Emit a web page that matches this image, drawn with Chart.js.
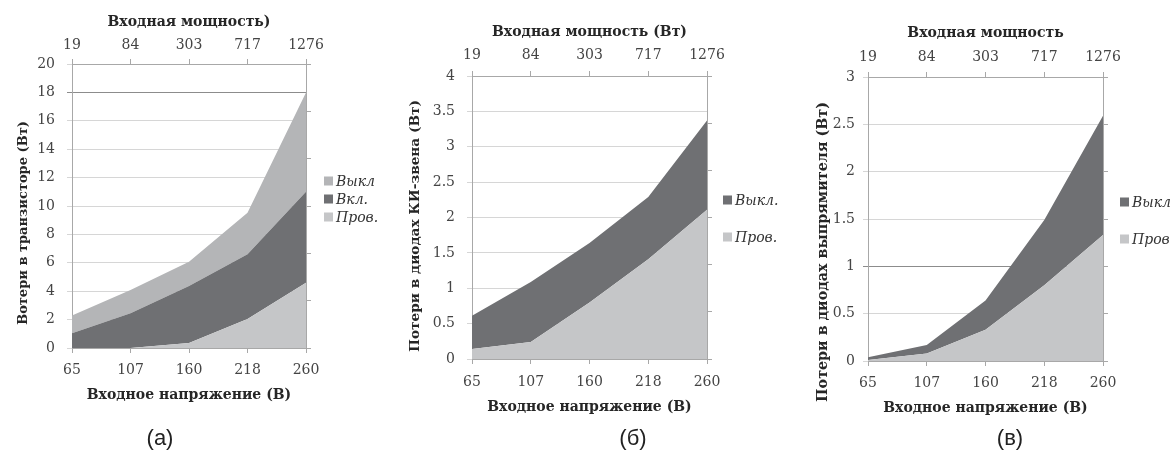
<!DOCTYPE html>
<html>
<head>
<meta charset="utf-8">
<script src="https://cdn.jsdelivr.net/npm/chart.js@4.4.0/dist/chart.umd.min.js"></script>
<style>
  body { margin: 0; background: #fff; width: 1171px; height: 452px; position: relative; overflow: hidden; }
  .panel { position: absolute; top: 0; height: 452px; }
  .cap { position: absolute; top: 438px; font: 22px "Liberation Sans", Arial, sans-serif; color: #222; transform: translate(-50%, -50%); }
</style>
</head>
<body>
<div class="panel" style="left:0;width:390px"><canvas id="chartA"></canvas></div>
<div class="panel" style="left:390px;width:390px"><canvas id="chartB"></canvas></div>
<div class="panel" style="left:780px;width:391px"><canvas id="chartV"></canvas></div>
<div class="cap" style="left:160px">(а)</div>
<div class="cap" style="left:633px">(б)</div>
<div class="cap" style="left:1010px">(в)</div>

<script>
// входное напряжение (нижняя ось) и входная мощность (верхняя ось)
const voltage = ['65', '107', '160', '218', '260'];
const power = ['19', '84', '303', '717', '1276'];

// (а) потери в транзисторе, Вт (слои стопки снизу вверх)
const provA = [0, 0, 0.35, 2.05, 4.6];
const vklA = [1.03, 2.44, 4.02, 4.55, 6.4];
const vyklA = [1.25, 1.64, 1.71, 2.93, 7.0];

// (б) потери в диодах КИ-звена, Вт
const provB = [0.14, 0.24, 0.80, 1.41, 2.11];
const vyklB = [0.47, 0.85, 0.84, 0.88, 1.26];

// (в) потери в диодах выпрямителя, Вт
const provV = [0.01, 0.08, 0.33, 0.80, 1.33];
const vyklV = [0.03, 0.09, 0.31, 0.69, 1.26];

const SERIF = '"DejaVu Serif", "Liberation Serif", serif';
const LIGHT = '#c5c6c8';
const MID = '#b4b5b7';
const DARK = '#6f7073';
const GRID = '#d6d6d6';
const AXIS = '#a8a8a8';
const TICK = '#444';
const TITLE = '#262626';

// подписи оси Y и легенда справа
const panelText = {
    id: 'panelText',
    afterDraw(chart, args, o) {
        const ctx = chart.ctx;
        ctx.save();
        ctx.font = 'bold ' + o.titleSize + 'px ' + SERIF;
        ctx.fillStyle = TITLE;
        ctx.textAlign = 'center';
        ctx.textBaseline = 'middle';
        ctx.translate(o.titleX, o.titleY);
        ctx.rotate(-Math.PI / 2);
        ctx.fillText(o.title, 0, 0);
        ctx.restore();

        const sets = chart.data.datasets.slice().reverse();
        ctx.save();
        ctx.font = 'italic 14px ' + SERIF;
        ctx.textBaseline = 'middle';
        sets.forEach((ds, i) => {
            const y = o.legendY + i * o.legendGap;
            ctx.fillStyle = ds.backgroundColor;
            ctx.fillRect(o.legendX, y - 4.5, 9, 9);
            ctx.fillStyle = '#333';
            ctx.fillText(ds.label, o.legendX + 12, y + 1);
        });
        ctx.restore();
    }
};

function area(label, data, color, first) {
    return {
        label: label,
        data: data,
        backgroundColor: color,
        borderColor: 'rgba(0,0,0,0)',
        borderWidth: 0,
        pointRadius: 0,
        tension: 0,
        fill: first ? 'origin' : '-1'
    };
}

function makeChart(id, datasets, p) {
    const tickFont = { family: SERIF, size: 14 };
    const titleFont = { family: SERIF, size: 14, weight: 'bold' };
    return new Chart(document.getElementById(id), {
        type: 'line',
        data: { labels: voltage, datasets: datasets },
        plugins: [panelText],
        options: {
            responsive: true,
            maintainAspectRatio: false,
            animation: false,
            locale: 'en-US',
            layout: { padding: { left: 0, top: 0, right: p.padRight, bottom: p.padBottom } },
            plugins: {
                legend: { display: false },
                tooltip: { enabled: false },
                panelText: p.text
            },
            scales: {
                x: {
                    position: 'bottom',
                    offset: false,
                    grid: { drawOnChartArea: false, tickLength: 5, color: AXIS },
                    border: { color: AXIS },
                    ticks: { padding: p.xPad, color: TICK, font: tickFont, maxRotation: 0, autoSkip: false },
                    title: { display: true, text: 'Входное напряжение (В)', color: TITLE, font: titleFont,
                             padding: { top: 0, bottom: p.xTitlePad } },
                    afterFit: s => { s.height = p.xHeight; }
                },
                x2: {
                    type: 'category',
                    position: 'top',
                    labels: power,
                    offset: false,
                    grid: { drawOnChartArea: false, tickLength: 5, color: AXIS },
                    border: { color: AXIS },
                    ticks: { padding: p.x2Pad, color: TICK, font: tickFont, maxRotation: 0, autoSkip: false },
                    title: { display: true, text: p.topTitle, color: TITLE, font: titleFont,
                             padding: { top: p.x2TitlePad, bottom: 0 } },
                    afterFit: s => { s.height = p.top; }
                },
                y: {
                    position: 'left',
                    stacked: true,
                    min: 0,
                    max: p.max,
                    grid: {
                        tickLength: 5,
                        color: c => (c.tick && c.tick.value === p.mark) ? '#8c8c8c' : GRID
                    },
                    border: { color: AXIS },
                    ticks: { stepSize: p.step, padding: p.yPad, color: TICK, font: tickFont,
                             callback: v => String(v) },
                    afterFit: s => { s.width = p.left; }
                },
                y2: {
                    position: 'right',
                    min: 0,
                    max: 6,
                    grid: { drawOnChartArea: false, tickLength: 5, color: AXIS },
                    border: { color: AXIS },
                    ticks: { display: false, stepSize: 1 },
                    afterFit: s => { s.width = 8; }
                }
            }
        }
    });
}

makeChart('chartA', [
    area('Пров.', provA, LIGHT, true),
    area('Вкл.', vklA, DARK),
    area('Выкл', vyklA, MID)
], {
    max: 20, step: 2, mark: 18,
    left: 72, top: 64, xHeight: 60, padRight: 76, padBottom: 44,
    xPad: 8.6, xTitlePad: 4.6, x2Pad: 5.6, x2TitlePad: 13.6, yPad: 12,
    topTitle: 'Входная мощность)',
    text: { title: 'Вотери в транзисторе (Вт)', titleSize: 13, titleX: 24, titleY: 223,
            legendX: 324, legendY: 181, legendGap: 18 }
});

makeChart('chartB', [
    area('Пров.', provB, LIGHT, true),
    area('Выкл.', vyklB, DARK)
], {
    max: 4, step: 0.5, mark: null,
    left: 82, top: 76, xHeight: 60, padRight: 65, padBottom: 33,
    xPad: 9.6, xTitlePad: 3.6, x2Pad: 7.6, x2TitlePad: 23.6, yPad: 12,
    topTitle: 'Входная мощность (Вт)',
    text: { title: 'Потери в диодах КИ-звена (Вт)', titleSize: 13.7, titleX: 25, titleY: 226,
            legendX: 333, legendY: 200, legendGap: 37 }
});

makeChart('chartV', [
    area('Пров.', provV, LIGHT, true),
    area('Выкл.', vyklV, DARK)
], {
    max: 3, step: 0.5, mark: 1,
    left: 88, top: 77, xHeight: 60, padRight: 60, padBottom: 31,
    xPad: 8.6, xTitlePad: 4.6, x2Pad: 6.6, x2TitlePad: 24.6, yPad: 8,
    topTitle: 'Входная мощность',
    text: { title: 'Потери в диодах выпрямителя (Вт)', titleSize: 14.3, titleX: 43, titleY: 252,
            legendX: 340, legendY: 202, legendGap: 37 }
});
</script>
</body>
</html>
